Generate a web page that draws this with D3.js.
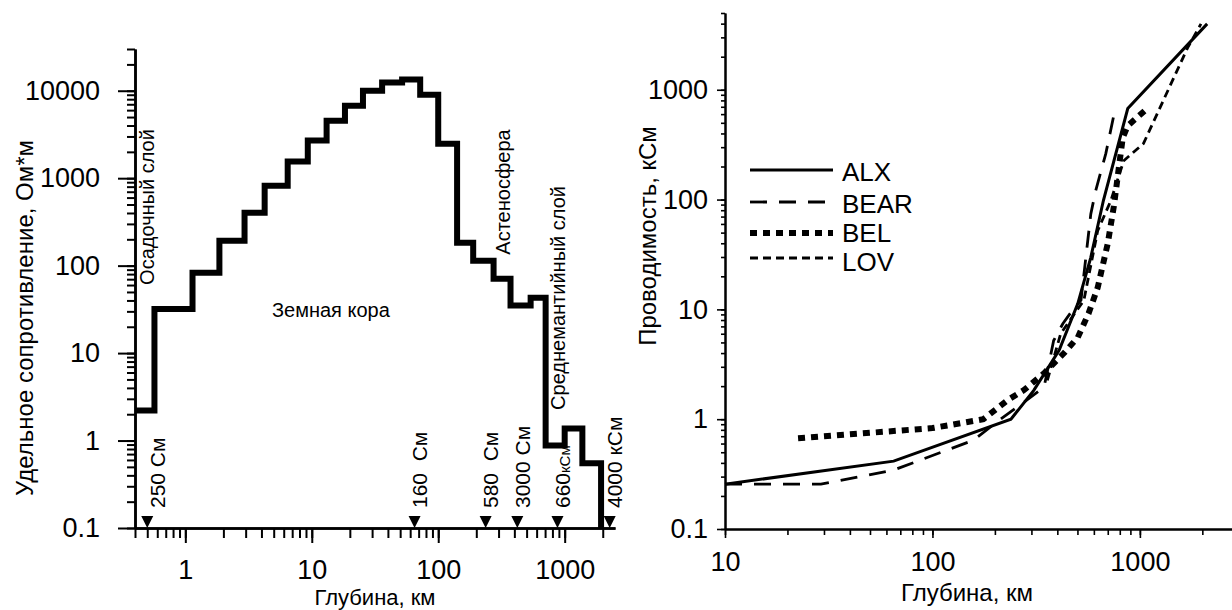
<!DOCTYPE html>
<html>
<head>
<meta charset="utf-8">
<script src="https://cdn.jsdelivr.net/npm/d3@7"></script>
<style>
  body { margin: 0; background: #fff; }
  svg { display: block; }
  text { font-family: "Liberation Sans", Arial, sans-serif; fill: #000; }
</style>
</head>
<body>
<svg id="chart" width="1232" height="610"></svg>
<script>
// left panel: resistivity step model
const stepDepth = [0.4, 0.57, 1.14, 1.86, 2.94, 4.24, 6.45, 9.3, 13.1, 18.3, 25.4, 36, 51.8, 72, 100, 141, 189, 274, 373, 538, 707, 1000, 1380, 1940];
const stepRho = [2.2, 32, 83, 193, 403, 820, 1550, 2700, 4540, 6740, 10000, 12400, 13400, 9000, 2480, 183, 114, 71, 35, 43, 0.88, 1.37, 0.55, 0.1];
const markerDepth = [0.5, 65, 237, 422, 877, 2270];
const markerLabel = ["250 См", "160  См", "580  См", "3000 См", "660", "4000 кСм"];
const leftYTicks = [0.1, 1, 10, 100, 1000, 10000];
const leftXTicks = [1, 10, 100, 1000];

// right panel: conductance curves
const alxDepth = [10, 65, 239, 308, 408, 502, 580, 667, 874, 2110];
const alxVal = [0.256, 0.415, 1.0, 1.83, 4.24, 11.3, 29.8, 98, 675, 3980];
const bearDepth = [10, 29, 65, 158, 213, 345, 384, 425, 473, 520, 549, 580, 612, 685, 760];
const bearVal = [0.256, 0.256, 0.344, 0.645, 1.0, 1.95, 5.2, 7.4, 9.8, 12.1, 29.8, 74, 120, 262, 670];
const belDepth = [22.5, 100, 176, 230, 275, 345, 430, 502, 566, 626, 700, 750, 794, 827, 874, 1100];
const belVal = [0.67, 0.83, 1.0, 1.49, 1.83, 2.62, 3.98, 5.56, 9.2, 15.8, 39.8, 88, 204, 366, 470, 690];
const lovDepth = [358, 415, 537, 626, 725, 836, 1040, 1700, 1970];
const lovVal = [2.26, 6.0, 12.1, 52, 98, 226, 323, 2420, 3980];
const seriesNames = ["ALX", "BEAR", "BEL", "LOV"];
const rightYTicks = [0.1, 1, 10, 100, 1000];
const rightXTicks = [10, 100, 1000];

const svg = d3.select("#chart");
svg.append("rect").attr("width", 1232).attr("height", 610).attr("fill", "#fff");

const fmt = d => d < 1 ? "0.1" : String(d);

function styleAxis(g, w) {
  g.attr("font-family", null).attr("font-size", null);
  g.select(".domain").attr("stroke", "#000").attr("stroke-width", w);
  g.selectAll(".tick line").attr("stroke", "#000").attr("stroke-width", w * 0.8);
  g.selectAll(".tick text").attr("font-size", 27);
}

// ---------- left panel ----------
const xL = d3.scaleLog().domain([0.4, 2500]).range([135, 615]);
const yL = d3.scaleLog().domain([0.1, 30000]).range([528, 49]);

const lY = svg.append("g").attr("transform", "translate(135,0)");
lY.append("g").call(d3.axisLeft(yL).tickValues(yL.ticks()).tickSize(8).tickFormat("").tickSizeOuter(0)).call(styleAxis, 2.5);
lY.append("g").call(d3.axisLeft(yL).tickValues(leftYTicks).tickSize(17).tickPadding(18).tickFormat(fmt).tickSizeOuter(0)).call(styleAxis, 2.5);

const lX = svg.append("g").attr("transform", "translate(0,528)");
lX.append("g").call(d3.axisBottom(xL).tickValues(xL.ticks()).tickSize(10).tickFormat("").tickSizeOuter(0)).call(styleAxis, 2.5);
lX.append("g").call(d3.axisBottom(xL).tickValues(leftXTicks).tickSize(15).tickPadding(17).tickFormat(fmt).tickSizeOuter(0)).call(styleAxis, 2.5);

const stepData = stepDepth.map((d, i) => [d, stepRho[i]]);
svg.append("path")
  .datum(stepData)
  .attr("fill", "none").attr("stroke", "#000").attr("stroke-width", 6)
  .attr("stroke-linejoin", "miter")
  .attr("d", d3.line().x(d => xL(d[0])).y(d => yL(d[1])).curve(d3.curveStepAfter));

// triangle markers on depth axis
svg.selectAll(".mark").data(markerDepth).join("path")
  .attr("class", "mark")
  .attr("transform", d => `translate(${xL(d)},528)`)
  .attr("d", "M-6,-12 L6,-12 L0,0 Z").attr("fill", "#000");

const mk = svg.selectAll(".mlab").data(markerDepth).join("text")
  .attr("class", "mlab")
  .attr("transform", (d, i) => `translate(${xL(d) + (i === 0 ? 10 : 5)},508) rotate(-90)`)
  .attr("dy", "0.35em")
  .attr("font-size", 21)
  .style("white-space", "pre")
  .text((d, i) => markerLabel[i]);
mk.filter((d, i) => i === 4).append("tspan").attr("font-size", 15).text("кСм");

// layer names
svg.append("text").attr("transform", "translate(147,207) rotate(-90)").attr("dy", "0.35em")
  .attr("text-anchor", "middle").attr("font-size", 20).text("Осадочный слой");
svg.append("text").attr("x", 272).attr("y", 310).attr("dy", "0.35em")
  .attr("font-size", 20).text("Земная кора");
svg.append("text").attr("transform", "translate(503,192) rotate(-90)").attr("dy", "0.35em")
  .attr("text-anchor", "middle").attr("font-size", 20).text("Астеносфера");
svg.append("text").attr("transform", "translate(558,298) rotate(-90)").attr("dy", "0.35em")
  .attr("text-anchor", "middle").attr("font-size", 20).text("Среднемантийный слой");

svg.append("text").attr("transform", "translate(25,318) rotate(-90)").attr("dy", "0.35em")
  .attr("text-anchor", "middle").attr("font-size", 24).text("Удельное сопротивление, Ом*м");
svg.append("text").attr("x", 375).attr("y", 597.5).attr("dy", "0.35em")
  .attr("text-anchor", "middle").attr("font-size", 22).text("Глубина, км");

// ---------- right panel ----------
const xR = d3.scaleLog().domain([10, 2780]).range([725, 1232]);
const yR = d3.scaleLog().domain([0.1, 5000]).range([529, 13]);

const rY = svg.append("g").attr("transform", "translate(725,0)");
rY.append("g").call(d3.axisLeft(yR).tickValues(yR.ticks()).tickSize(4).tickFormat("").tickSizeOuter(0)).call(styleAxis, 2);
rY.append("g").call(d3.axisLeft(yR).tickValues(rightYTicks).tickSize(8).tickPadding(9).tickFormat(fmt).tickSizeOuter(0)).call(styleAxis, 2);

const rX = svg.append("g").attr("transform", "translate(0,529)");
rX.append("g").call(d3.axisBottom(xR).tickValues(xR.ticks()).tickSize(6).tickFormat("").tickSizeOuter(0)).call(styleAxis, 2);
rX.append("g").call(d3.axisBottom(xR).tickValues(rightXTicks).tickSize(9).tickPadding(14).tickFormat(fmt).tickSizeOuter(0)).call(styleAxis, 2);

const series = [
  { name: "ALX", depth: alxDepth, val: alxVal, width: 3, dash: null },
  { name: "BEAR", depth: bearDepth, val: bearVal, width: 2.8, dash: "17,12" },
  { name: "BEL", depth: belDepth, val: belVal, width: 6, dash: "7,6" },
  { name: "LOV", depth: lovDepth, val: lovVal, width: 2.8, dash: "8,5" }
];
const lineR = d3.line().x(d => xR(d[0])).y(d => yR(d[1]));

series.forEach(s => {
  svg.append("path")
    .datum(s.depth.map((d, i) => [d, s.val[i]]))
    .attr("fill", "none").attr("stroke", "#000")
    .attr("stroke-width", s.width)
    .attr("stroke-dasharray", s.dash)
    .attr("d", lineR);
});

// legend
const legY = [170, 202, 233, 258];
const legTextY = [172, 204, 233, 262];
series.forEach((s, i) => {
  svg.append("line").attr("x1", 750).attr("x2", 833).attr("y1", legY[i]).attr("y2", legY[i])
    .attr("stroke", "#000").attr("stroke-width", s.width).attr("stroke-dasharray", s.dash);
  svg.append("text").attr("x", 842).attr("y", legTextY[i]).attr("dy", "0.35em")
    .attr("font-size", 26).text(seriesNames[i]);
});

svg.append("text").attr("transform", "translate(648,236) rotate(-90)").attr("dy", "0.35em")
  .attr("text-anchor", "middle").attr("font-size", 24).text("Проводимость, кСм");
svg.append("text").attr("x", 967).attr("y", 593).attr("dy", "0.35em")
  .attr("text-anchor", "middle").attr("font-size", 24).text("Глубина, км");
</script>
</body>
</html>
